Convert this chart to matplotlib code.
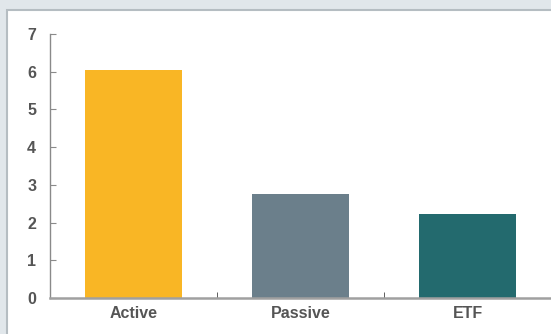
import matplotlib.pyplot as plt
from matplotlib.patches import Rectangle

categories = ["Active", "Passive", "ETF"]
values = [6.05, 2.77, 2.23]
colors = ["#F9B625", "#6B7F8B", "#236A6E"]

plt.rcParams['font.family'] = ['Liberation Sans', 'DejaVu Sans']

fig = plt.figure(figsize=(5.51, 3.34), dpi=100)
fig.patch.set_facecolor("#E1E7EB")

# white panel with grey border
panel = Rectangle((7 / 551, -0.01), 1.0, 1 - 9.5 / 334 + 0.01, transform=fig.transFigure,
                  facecolor="white", edgecolor="#B5BDC2", linewidth=1.5, zorder=-10)
fig.patches.append(panel)

ax = fig.add_axes([50 / 551, 1 - 298 / 334, 1 - 50 / 551, (298 - 34) / 334])
ax.set_facecolor("none")

x = range(len(categories))
ax.bar(x, values, width=0.58, color=colors, zorder=2)

ax.set_xlim(-0.5, 2.5)
ax.set_ylim(0, 7)
ax.set_yticks(range(0, 8))

ax.set_xticks(list(x))
ax.set_xticklabels(categories)
ax.set_xticks([0.5, 1.5], minor=True)

for s in ["top", "right"]:
    ax.spines[s].set_visible(False)
ax.spines["left"].set_color("#8A8A8A")
ax.spines["bottom"].set_color("#A0A0A0")
ax.spines["left"].set_linewidth(1.0)
ax.spines["bottom"].set_linewidth(1.8)

ax.tick_params(axis="y", direction="in", length=4, color="#8A8A8A", pad=10,
               labelsize=11.5, labelcolor="#555555")
ax.tick_params(axis="x", which="major", length=0, pad=6, labelsize=11.5, labelcolor="#555555")
ax.tick_params(axis="x", which="minor", direction="in", length=4, color="#444444")
for lbl in ax.get_xticklabels() + ax.get_yticklabels():
    lbl.set_fontweight("bold")

fig.savefig("out.png", dpi=100, facecolor=fig.get_facecolor())
